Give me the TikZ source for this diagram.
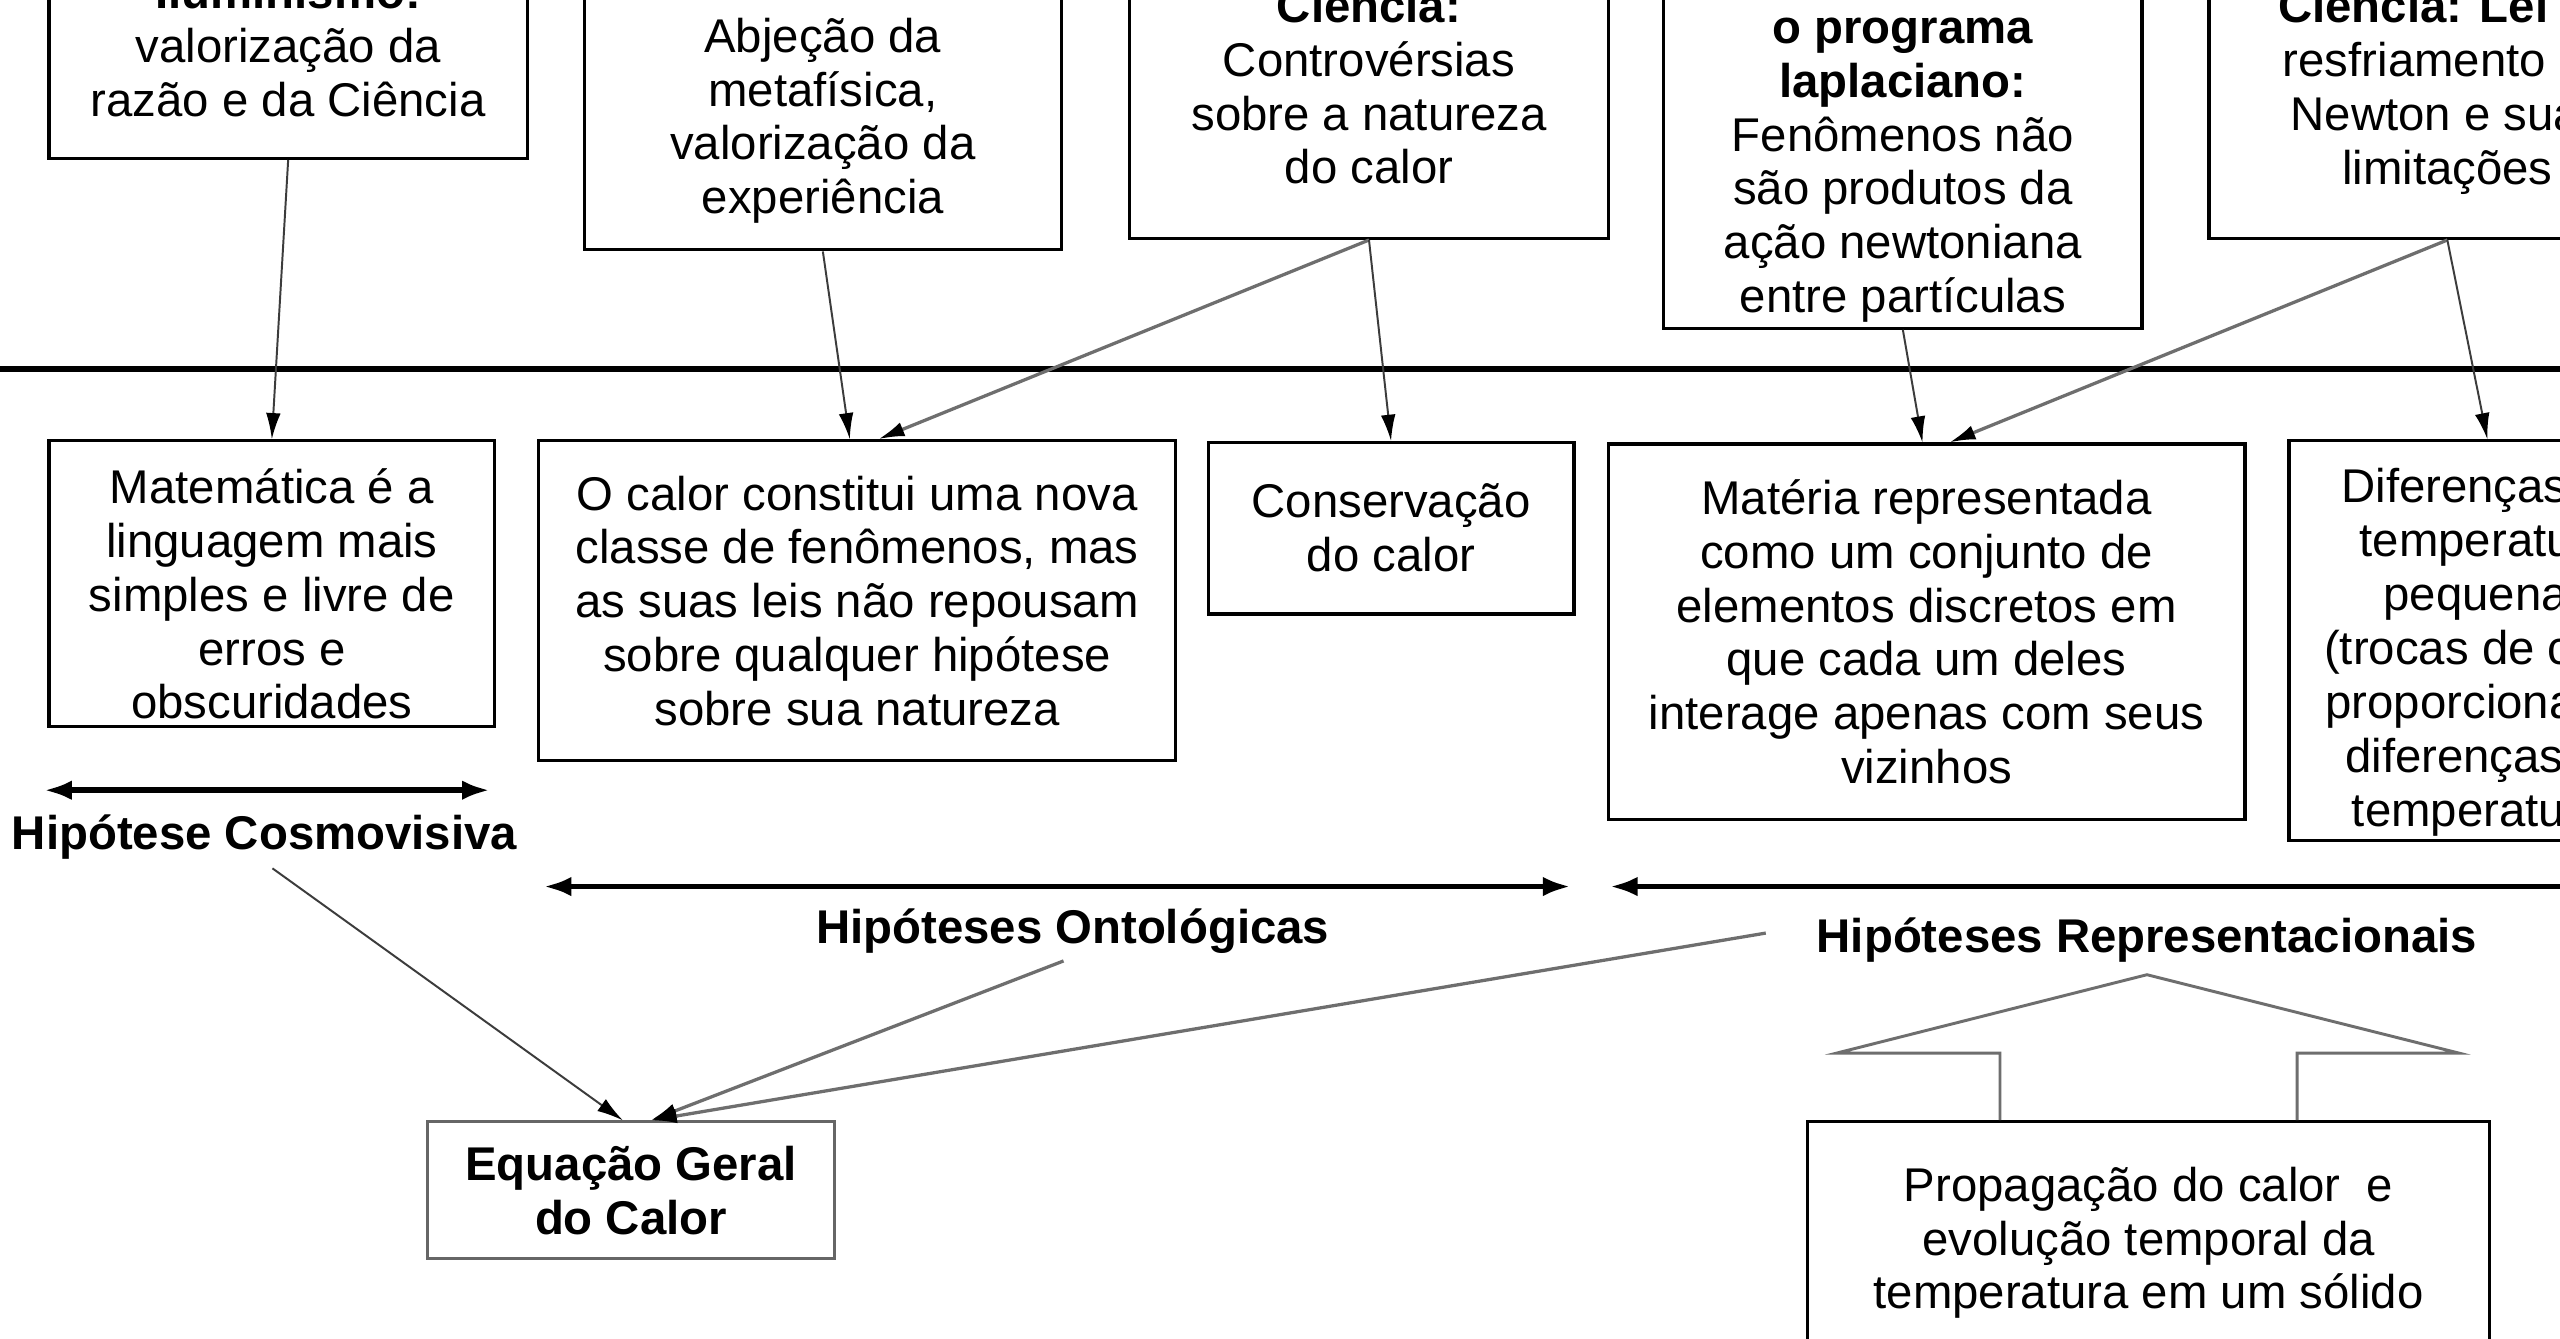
\documentclass[tikz,border=0pt]{standalone}
\usepackage{fontspec}
\setmainfont{Liberation Sans}
\usepackage{xcolor}
\usetikzlibrary{arrows.meta,backgrounds}
\definecolor{conn}{HTML}{3C3C3C}
\definecolor{connl}{HTML}{6E6E6E}
\tikzset{
  box/.style = {draw,line width=2pt,align=center,inner sep=0pt,font=\fontsize{29}{33}\selectfont},
  eqbox/.style = {box,draw=black!60,line width=1.6pt},
  hyp/.style = {font=\fontsize{29}{33}\selectfont\bfseries,inner sep=2pt},
  arr/.style = {->,> = {Latex[length=16pt,width=9pt,color=black]},conn,line width=1.2pt},
  arrl/.style = {->,> = {Latex[length=16pt,width=9pt,color=black]},connl,line width=2pt},
  hyprange/.style = {<->,> = {Latex[length=17pt,width=12pt]},line width=3.5pt},
  divider/.style = {line width=4pt},
  blockarr/.style = {connl,line width=1.8pt,line join=miter}
}
\newlength{\lgap}
\setlength{\lgap}{6pt}
% invisible strut to push a text block down inside its box
\newcommand{\tgap}[1]{\rule{0pt}{#1}}

\begin{document}
\begin{tikzpicture}[x=1pt,y=-1pt,background rectangle/.style={fill=white},
  inner frame sep=0pt, show background rectangle]
\useasboundingbox (0,0) rectangle (1568,820);
\clip (0,0) rectangle (1568,820);

% contexto
\node[box,minimum width=293pt,minimum height=138pt] (ilum) at (176.5,28)
  {\textbf{Iluminismo:}\\valorização da\\razão e da Ciência};
\node[box,minimum width=292pt,minimum height=196pt] (posit) at (504,55)
  {\tgap{26pt}\textbf{Positivismo:}\\Abjeção da\\metafísica,\\valorização da\\experiência};
\node[box,minimum width=293pt,minimum height=187pt] (cienc) at (838.5,52.5)
  {\textbf{Ciência:}\\Controvérsias\\sobre a natureza\\do calor};
\node[box,minimum width=293pt,minimum height=234pt] (lapl) at (1165.5,84)
  {\strut\\\textbf{o programa}\\\textbf{laplaciano:}\\Fenômenos não\\são produtos da\\ação newtoniana\\entre partículas};
\node[box,minimum width=292pt,minimum height=187pt] (newt) at (1499,52.5)
  {\tgap{28pt}\textbf{Ciência: Lei de}\\resfriamento de\\Newton e suas\\limitações};

\coordinate (divl) at (0,226);
\coordinate (divr) at (1568,226);
\draw[divider] (divl) -- (divr);

% hipoteses
\node[box,minimum width=273pt,minimum height=175pt] (mat) at (166.5,357.5)
  {\tgap{34pt}Matemática é a\\linguagem mais\\simples e livre de\\erros e\\obscuridades};
\node[box,minimum width=390pt,minimum height=196pt] (calor) at (525,368)
  {O calor constitui uma nova\\classe de fenômenos, mas\\as suas leis não repousam\\sobre qualquer hipótese\\sobre sua natureza};
\node[box,minimum width=224pt,minimum height=105pt] (conserv) at (852,323.5)
  {Conservação\\do calor};
\node[box,minimum width=390pt,minimum height=230pt] (materia) at (1180,387)
  {Matéria representada\\como um conjunto de\\elementos discretos em\\que cada um deles\\interage apenas com seus\\vizinhos};
\node[box,minimum width=243pt,minimum height=245pt] (difer) at (1523.5,392.5)
  {\tgap{35pt}Diferenças de\\temperatura\\pequenas\\(trocas de calor\\proporcionais a\\diferenças de\\temperatura)};

\draw[arr] (ilum.south) -- (mat.north);
\draw[arr] (posit.south) -- ([xshift=-4.5pt]calor.north);
\draw[arrl] (cienc.south) -- ([xshift=13pt]calor.north);
\draw[arr] (cienc.south) -- (conserv.north);
\draw[arr] (lapl.south) -- ([xshift=-2.5pt]materia.north);
\draw[arrl] (newt.south) -- ([xshift=14pt]materia.north);
\draw[arr] (newt.south) -- (difer.north);

% faixas
\coordinate (cosmol) at (27,484);
\coordinate (cosmor) at (300,484);
\draw[hyprange] (cosmol) -- (cosmor);
\node[hyp] (cosmo) at (162,512.5) {Hipótese Cosmovisiva};

\coordinate (ontol) at (333,543);
\coordinate (ontor) at (962,543);
\draw[hyprange] (ontol) -- (ontor);
\node[hyp] (onto) at (657,570.5) {Hipóteses Ontológicas};

\coordinate (reprl) at (986,543);
\coordinate (reprr) at (1640,543);
\draw[hyprange] (reprl) -- (reprr);
\node[hyp] (repr) at (1315,575.5) {Hipóteses Representacionais};

% resultados
\node[eqbox,minimum width=249pt,minimum height=84pt] (eqgeral) at (386.5,729)
  {\textbf{Equação Geral}\\\textbf{do Calor}};
\node[box,minimum width=418pt,minimum height=142pt] (prop) at (1316,758)
  {\tgap{27.5pt}Propagação do calor~ e\\evolução temporal da\\temperatura em um sólido};

\draw[arr,shorten <=\lgap] (cosmo.south) -- ([xshift=-5pt]eqgeral.north);
\draw[arrl,shorten <=\lgap] (onto.south) -- ([xshift=12pt]eqgeral.north);
\draw[arrl] ([xshift=-29pt,yshift=4pt]repr.west) -- ([xshift=12pt]eqgeral.north);

\coordinate (apex) at (1315,597);
\coordinate (wingl) at (1125,645);
\coordinate (wingr) at (1506,645);
\draw[blockarr] ([xshift=-91pt]prop.north) |- (wingl) -- (apex) -- (wingr)
  -| ([xshift=91pt]prop.north);
\end{tikzpicture}
\end{document}
